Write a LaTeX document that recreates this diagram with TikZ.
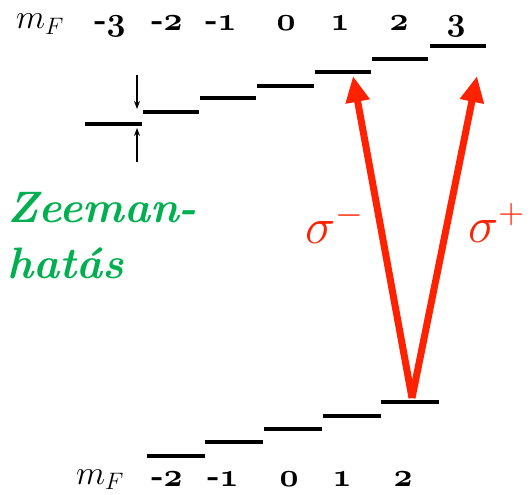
\RequirePackage{fix-cm}
\documentclass[tikz,border=0pt]{standalone}
\usetikzlibrary{arrows.meta}
\definecolor{zgreen}{RGB}{0,176,80}
\definecolor{lred}{RGB}{255,34,0}
\newcommand{\osn}[1]{{\usefont{OML}{cmm}{b}{it}#1}}
\begin{document}
\begin{tikzpicture}[x=1pt,y=-1pt,
  level/.style={line width=4pt},
  lab/.style={anchor=base,inner sep=0pt,font=\fontsize{33}{36}\selectfont\bfseries},
  mf/.style={anchor=base,inner sep=0pt,font=\fontsize{34}{40}\selectfont},
  sig/.style={anchor=base west,inner sep=0pt,text=lred,font=\fontsize{51}{56}\selectfont},
  zee/.style={anchor=base west,inner sep=0pt,text=zgreen,font=\fontsize{44}{50}\selectfont\bfseries\itshape},
  redarrow/.style={draw=lred,line width=7pt,-{Triangle[length=26pt,width=23pt]}},
  smallarrow/.style={line width=1.3pt,-{Stealth[length=8pt,width=6pt]}}]
\useasboundingbox (0,0) rectangle (530,495);
% upper levels (F=3)
\coordinate (u1a) at (85,124);  \coordinate (u1b) at (142,124);
\coordinate (u2a) at (143,112); \coordinate (u2b) at (199,112);
\coordinate (u3a) at (200,98);  \coordinate (u3b) at (256,98);
\coordinate (u4a) at (257,86);  \coordinate (u4b) at (314,86);
\coordinate (u5a) at (315,72.5);\coordinate (u5b) at (371,72.5);
\coordinate (u6a) at (372,59.5);\coordinate (u6b) at (428,59.5);
\coordinate (u7a) at (430,46);  \coordinate (u7b) at (486,46);
\foreach \i in {1,...,7} {\draw[level] (u\i a) -- (u\i b);}
% lower levels (F=2)
\coordinate (l1a) at (147,456); \coordinate (l1b) at (205,456);
\coordinate (l2a) at (205,442); \coordinate (l2b) at (263,442);
\coordinate (l3a) at (264,429); \coordinate (l3b) at (322,429);
\coordinate (l4a) at (323,416); \coordinate (l4b) at (381,416);
\coordinate (l5a) at (381,402); \coordinate (l5b) at (439,402);
\foreach \i in {1,...,5} {\draw[level] (l\i a) -- (l\i b);}
% top labels
\node[mf] (mft) at (40,29) {$m_F$};
\node[lab] (t1) at (110,31) {-\osn{3}};
\node[lab] (t2) at (167,31) {-\osn{2}};
\node[lab] (t3) at (221,31) {-\osn{1}};
\node[lab] (t4) at (286,31) {\osn{0}};
\node[lab] (t5) at (340,31) {\osn{1}};
\node[lab] (t6) at (399,31) {\osn{2}};
\node[lab] (t7) at (456,31) {\osn{3}};
% bottom labels
\node[mf] (mfb) at (100,484) {$m_F$};
\node[lab] (b1) at (167,486) {-\osn{2}};
\node[lab] (b2) at (223,486) {-\osn{1}};
\node[lab] (b3) at (289,486) {\osn{0}};
\node[lab] (b4) at (342,486) {\osn{1}};
\node[lab] (b5) at (403,486) {\osn{2}};
% small splitting arrows
\coordinate (da1) at (137,75);  \coordinate (da2) at (137,109);
\coordinate (ua1) at (137,162); \coordinate (ua2) at (137,128);
\draw[smallarrow] (da1) -- (da2);
\draw[smallarrow] (ua1) -- (ua2);
% red transitions
\coordinate (src) at (412,398);
\coordinate (tm) at (353,76);
\coordinate (tp) at (477,76);
\draw[redarrow] (src) -- (tm);
\draw[redarrow] (src) -- (tp);
\node[sig] (sm) at (305,243) {$\sigma^-$};
\node[sig] (sp) at (468,242) {$\sigma^+$};
% Zeeman label
\node[zee] (z1) at (7,222) {Zeeman-};
\node[zee] (z2) at (7,278) {hatás};
\end{tikzpicture}
\end{document}
